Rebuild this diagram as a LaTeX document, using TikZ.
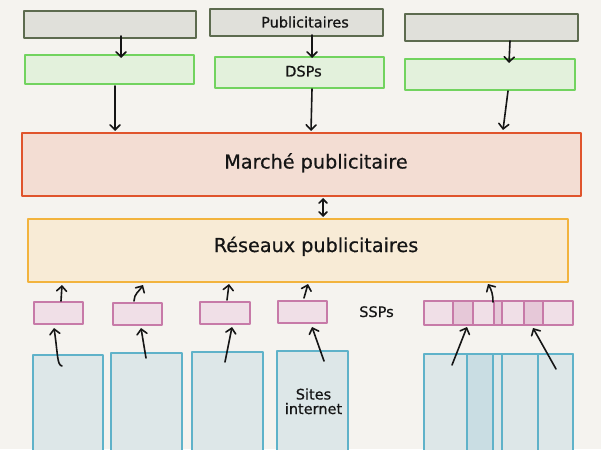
\documentclass[tikz,border=0pt]{standalone}
\usepackage{fontspec}
\setmainfont{DejaVu Sans}[FakeBold=0.6]
\usetikzlibrary{arrows.meta,calc}
\definecolor{bg}{HTML}{F5F3EF}
\definecolor{grayfill}{HTML}{E0E0DA}
\definecolor{graystroke}{HTML}{5D6B4F}
\definecolor{greenfill}{HTML}{E3F1DC}
\definecolor{greenstroke}{HTML}{72D35F}
\definecolor{redfill}{HTML}{F3DDD3}
\definecolor{redstroke}{HTML}{E0542C}
\definecolor{yelfill}{HTML}{F8EBD6}
\definecolor{yelstroke}{HTML}{F2B33D}
\definecolor{pinkfill}{HTML}{F0DFE7}
\definecolor{pinkdark}{HTML}{E6C8D8}
\definecolor{pinkstroke}{HTML}{C77AA8}
\definecolor{bluefill}{HTML}{DDE7E8}
\definecolor{bluedark}{HTML}{C9DDE3}
\definecolor{bluestroke}{HTML}{5FB2C9}
\definecolor{ink}{HTML}{151515}
\tikzset{
  box/.style={rectangle, anchor=north west, inner sep=0pt, outer sep=0pt, line width=1.7pt, line join=round},
  pubbox/.style={box, fill=grayfill, draw=graystroke},
  dspbox/.style={box, fill=greenfill, draw=greenstroke},
  mktbox/.style={box, fill=redfill, draw=redstroke},
  netbox/.style={box, fill=yelfill, draw=yelstroke},
  sspbox/.style={box, fill=pinkfill, draw=pinkstroke},
  sspdark/.style={box, fill=pinkdark, draw=pinkstroke},
  sitebox/.style={box, fill=bluefill, draw=bluestroke},
  sitedark/.style={box, fill=bluedark, draw=bluestroke},
  lbl/.style={inner sep=0pt, text=ink, font=\fontsize{14.5}{14.5}\selectfont},
  biglbl/.style={inner sep=0pt, text=ink, font=\fontsize{19.2}{20}\selectfont},
  arr/.style={draw=ink, line width=1.6pt, line cap=round, -{Straight Barb[length=5pt,width=10pt,line cap=round]}},
  darr/.style={draw=ink, line width=1.6pt, line cap=round, {Straight Barb[length=4pt,width=8pt,line cap=round]}-{Straight Barb[length=4pt,width=8pt,line cap=round]}}
}
\begin{document}
\begin{tikzpicture}[x=1pt,y=-1pt]
\path[fill=bg] (0,0) rectangle (601,449);
\useasboundingbox (0,0) rectangle (601,449);
% publicitaires
\node[pubbox, minimum width=172, minimum height=27] (g1) at (24,11) {};
\node[pubbox, minimum width=173, minimum height=27] (g2) at (210,9) {};
\node[pubbox, minimum width=173, minimum height=27] (g3) at (405,14) {};
\node[lbl, anchor=base] (g2t) at (305,27.5) {Publicitaires};
% DSPs
\node[dspbox, minimum width=169, minimum height=29] (d1) at (25,55) {};
\node[dspbox, minimum width=169, minimum height=31] (d2) at (215,57) {};
\node[dspbox, minimum width=170, minimum height=31] (d3) at (405,59) {};
\node[lbl, anchor=base] (d2t) at (303.5,76.5) {DSPs};
% marche
\node[mktbox, minimum width=559, minimum height=63] (m) at (22,133) {};
\node[biglbl, anchor=base] (mt) at (316,168.5) {Marché publicitaire};
% reseaux
\node[netbox, minimum width=540, minimum height=63] (r) at (28,219) {};
\node[biglbl, anchor=base] (rt) at (316,252) {Réseaux publicitaires};
% SSPs
\node[sspbox, minimum width=49, minimum height=22] (s1) at (34,302) {};
\node[sspbox, minimum width=49, minimum height=22] (s2) at (113,303) {};
\node[sspbox, minimum width=50, minimum height=22] (s3) at (200,302) {};
\node[sspbox, minimum width=49, minimum height=22] (s4) at (278,301) {};
\node[sspbox, minimum width=149, minimum height=24] (s5) at (424,301) {};
\node[sspdark, minimum width=20, minimum height=24] (s5a) at (453,301) {};
\node[sspdark, minimum width=8, minimum height=24] (s5b) at (494,301) {};
\node[sspdark, minimum width=19, minimum height=24] (s5c) at (524,301) {};
\node[lbl, anchor=base] (st) at (376.5,317) {SSPs};
% sites
\node[sitebox, minimum width=70, minimum height=110] (w1) at (33,355) {};
\node[sitebox, minimum width=71, minimum height=110] (w2) at (111,353) {};
\node[sitebox, minimum width=71, minimum height=110] (w3) at (192,352) {};
\node[sitebox, minimum width=71, minimum height=110] (w4) at (277,351) {};
\node[sitebox, minimum width=149, minimum height=110] (w5) at (424,354) {};
\node[sitedark, minimum width=26, minimum height=110] (w5a) at (467,354) {};
\node[sitebox, minimum width=36, minimum height=110] (w5b) at (502,354) {};
\node[sitebox, minimum width=35, minimum height=110] (w5c) at (538,354) {};
\node[lbl, align=center, anchor=base] (w4t) at (313.5,414) {Sites\\internet};
% arrows top
\draw[arr] ($(g1.north west)+(97,25)$) -- ($(d1.north west)+(96,3)$);
\draw[arr] ($(g2.north west)+(102,26)$) -- ($(d2.north west)+(97,1)$);
\draw[arr] ($(g3.north west)+(105,27)$) -- ($(d3.north west)+(104,4)$);
\draw[arr] ($(d1.north west)+(90,31)$) -- ($(m.north west)+(93,-2)$);
\draw[arr] ($(d2.north west)+(97,32)$) -- ($(m.north west)+(289,-2)$);
\draw[arr] ($(d3.north west)+(103,32)$) -- ($(m.north west)+(481,-3)$);
\draw[darr] ($(m.north west)+(301,65)$) -- ($(r.north west)+(295,-2)$);
% arrows SSP -> reseaux
\draw[arr] ($(s1.north west)+(27,-1)$) -- ($(r.north west)+(34,66)$);
\draw[arr] ($(s2.north west)+(21,-2)$) to[out=90,in=240] ($(r.north west)+(115,66)$);
\draw[arr] ($(s3.north west)+(27,-2)$) -- ($(r.north west)+(201,65)$);
\draw[arr] ($(s4.north west)+(26,-3)$) -- ($(r.north west)+(280,65)$);
\draw[arr] ($(s5.north west)+(69,1)$) to[out=90,in=300] ($(r.north west)+(460,65)$);
% arrows sites -> SSP
\draw[arr] ($(w1.north west)+(29,11)$) .. controls ($(w1.north west)+(24,10)$) and ($(w1.north west)+(25,0)$) .. ($(s1.north west)+(20,26)$);
\draw[arr] ($(w2.north west)+(35,5)$) -- ($(s2.north west)+(28,25)$);
\draw[arr] ($(w3.north west)+(33,10)$) -- ($(s3.north west)+(32,25)$);
\draw[arr] ($(w4.north west)+(47,10)$) -- ($(s4.north west)+(34,26)$);
\draw[arr] ($(w5.north west)+(28,11)$) -- ($(s5.north west)+(43,26)$);
\draw[arr] ($(w5.north west)+(132,15)$) -- ($(s5.north west)+(109,27)$);
\end{tikzpicture}
\end{document}
